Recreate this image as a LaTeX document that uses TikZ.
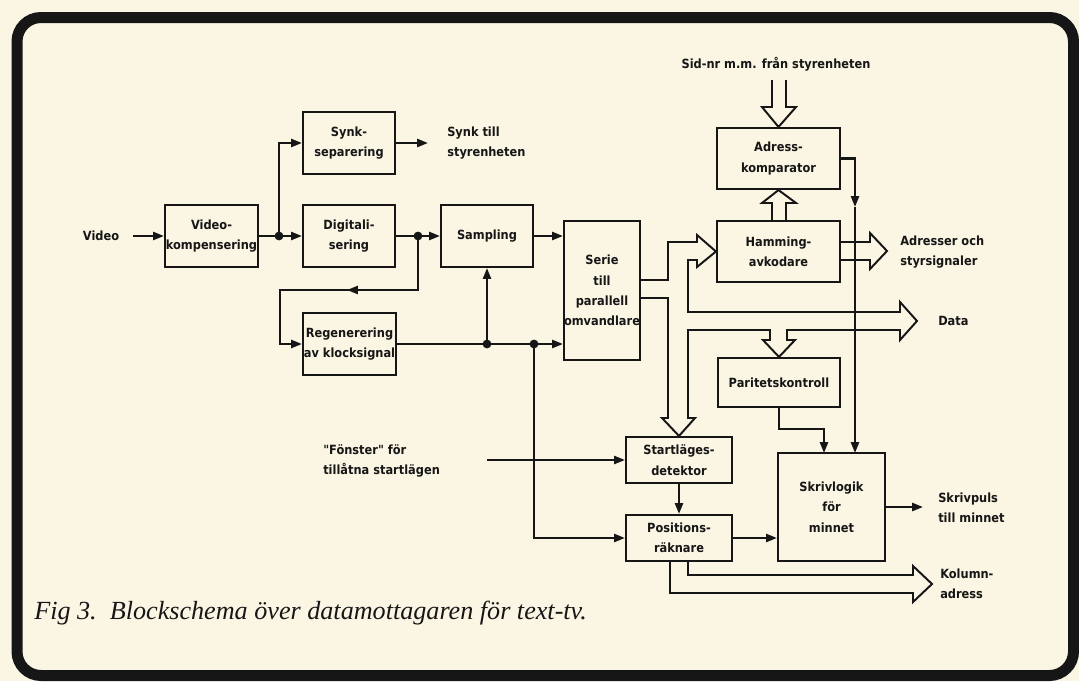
\documentclass[tikz,border=0pt]{standalone}
\usepackage{fontspec}
\newfontfamily\dv[FakeStretch=0.9]{DejaVu Sans Bold}
\newfontfamily\capf{Liberation Serif}
\usetikzlibrary{arrows.meta}
\definecolor{bg}{RGB}{251,246,228}
\definecolor{ink}{RGB}{22,22,22}
\begin{document}
\begin{tikzpicture}[x=0.25mm,y=-0.25mm,
  lbl/.style={font=\dv\fontsize{9}{14.5}\selectfont, text=ink, align=center, inner sep=0pt},
  box/.style={lbl, draw=ink, line width=1.5pt, fill=bg},
  sz/.style 2 args={minimum width=#1*0.25mm, minimum height=#2*0.25mm},
  arr/.style={draw=ink, line width=1.6pt, -{Triangle[length=2.7mm,width=2mm]}},
  ln/.style={draw=ink, line width=1.6pt},
  bus/.style={draw=ink, line width=1.4pt, line join=miter},
  dot/.style={circle, fill=ink, inner sep=0pt, minimum size=2.2mm}]

\fill[bg] (0,0) rectangle (1079,681);
\useasboundingbox (0,0) rectangle (1079,681);
\draw[ink, line width=2.75mm, rounded corners=6mm] (17,17.5) rectangle (1073.5,675.5);

% boxes
\node[box, sz={93}{62}] (vk) at (211.5,236) {Video-\\kompensering};
\node[box, sz={92}{62}] (synk) at (349,143) {Synk-\\separering};
\node[box, sz={92}{62}] (dig) at (349,236) {Digitali-\\sering};
\node[box, sz={92}{62}] (samp) at (487,236) {Sampling};
\node[box, sz={76}{139}] (serie) at (602,290.5) {Serie\\till\\parallell\\omvandlare};
\node[box, sz={93}{62}] (regen) at (349.5,344) {Regenerering\\av klocksignal};
\node[box, sz={123}{61}] (adr) at (778.5,158.5) {Adress-\\komparator};
\node[box, sz={123}{61}] (ham) at (778.5,251.5) {Hamming-\\avkodare};
\node[box, sz={122}{49}] (par) at (779,382.5) {Paritetskontroll};
\node[box, sz={106}{46}] (start) at (679,460) {Startläges-\\detektor};
\node[box, sz={106}{46}] (pos) at (679,538) {Positions-\\räknare};
\node[box, sz={107}{108}] (skriv) at (831.5,507) {Skrivlogik\\för\\minnet};

% labels
\node[lbl] (video) at (101,236) {Video};
\node[lbl, align=left, anchor=west] (synkt) at (447,143) {Synk till\\styrenheten};
\node[lbl] (sidnr) at (776,64) {Sid-nr m.m. från styrenheten};
\node[lbl, align=left, anchor=west] (adrt) at (900,252) {Adresser och\\styrsignaler};
\node[lbl, anchor=west] (datat) at (938,321) {Data};
\node[lbl, align=left, anchor=west] (skrivt) at (938,508) {Skrivpuls\\till minnet};
\node[lbl, align=left, anchor=west] (kolt) at (940,584) {Kolumn-\\adress};
\node[lbl, align=left, anchor=west] (fonst) at (323,461) {"Fönster" för\\ tillåtna startlägen};
\node[anchor=west, font=\capf\itshape\fontsize{18.6}{20}\selectfont, text=ink, inner sep=0pt] (cap) at (34,613) {Fig 3.\ \ Blockschema över datamottagaren för text-tv.};

% coordinates
\coordinate (j1) at (279,236);
\coordinate (j2) at (418,236);
\coordinate (j3) at (487,344);
\coordinate (j4) at (534,344);
\coordinate (fb1) at (418,290);
\coordinate (fb2) at (280,290);
\coordinate (fbm) at (347,290);
\coordinate (synkend) at (428,143);
\coordinate (fst) at (487,460);
\coordinate (spend) at (923,507);
\coordinate (sk1) at (824,453);
\coordinate (sk2) at (855,453);
\coordinate (am) at (855,207);

% bus arrows
\draw[bus] (772,80) -- (772,107) -- (762,107) -- (adr.north) -- (796,107) -- (786,107) -- (786,80);
\draw[bus] (772,221) -- (772,203) -- (762,203) -- (adr.south) -- (796,203) -- (786,203) -- (786,221);
\draw[bus] (840,242) -- (870,242) -- (870,233) -- (887,251) -- (870,269) -- (870,260) -- (840,260);
\draw[bus] (640,280) -- (668,280) -- (668,242) -- (697,242) -- (697,235) -- (ham.west) -- (697,267) -- (697,260)
  -- (688,260) -- (688,312) -- (900,312) -- (900,302) -- (917,321) -- (900,340) -- (900,330)
  -- (787,330) -- (787,340) -- (795,340) -- (par.north) -- (763,340) -- (770,340) -- (770,330)
  -- (688,330) -- (688,418) -- (695,418) -- (start.north) -- (662,418) -- (668,418) -- (668,298) -- (640,298);
\draw[bus] (688,561) -- (688,575) -- (913,575) -- (913,566) -- (932,584) -- (913,602) -- (913,593) -- (670,593) -- (670,561);

% connectors
\draw[arr, shorten <=3.5mm] (video.east) -- (vk.west);
\draw[arr] (vk.east) -- (dig.west);
\draw[arr] (j1) |- (synk.west);
\draw[arr] (synk.east) -- (synkend);
\draw[arr] (dig.east) -- (samp.west);
\draw[arr] (j2) -- (fb1) -- (fb2) |- (regen.west);
\draw[arr] (fb1) -- (fbm);
\draw[arr] (samp.east) -- (samp.east -| serie.west);
\draw[arr] (regen.east) -- (regen.east -| serie.west);
\draw[arr] (j3) -- (samp.south);
\draw[arr] (j4) |- (pos.west);
\draw[arr] (fst) -- (start.west);
\draw[arr] (start.south) -- (pos.north);
\draw[arr] (pos.east) -- (pos.east -| skriv.west);
\draw[arr] (skriv.east) -- (spend);
\draw[arr] (par.south) -- ++(0,21) -| (sk1);
\draw[arr] (adr.east) -| (am);
\draw[arr] (am) -- (sk2);

\node[dot] at (j1) {};
\node[dot] at (j2) {};
\node[dot] at (j3) {};
\node[dot] at (j4) {};
\end{tikzpicture}
\end{document}
